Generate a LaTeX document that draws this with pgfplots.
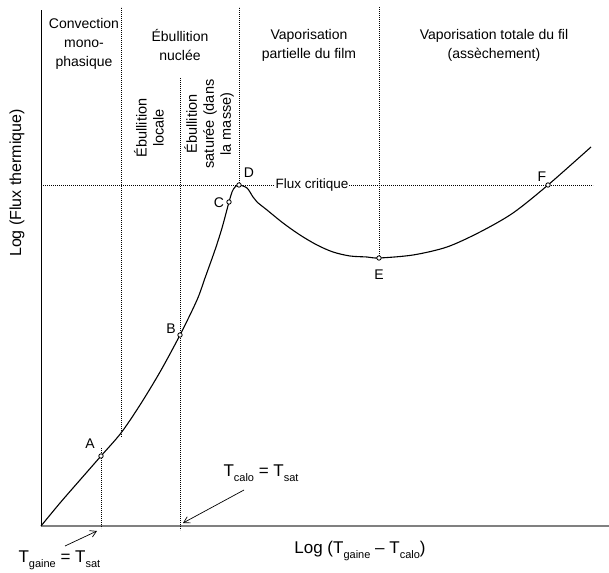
\documentclass[border=0pt]{standalone}
\usepackage{fontspec}
\setmainfont{Liberation Sans}
\usepackage{pgfplots}
\pgfplotsset{compat=1.18}
\usetikzlibrary{arrows.meta}
\newcommand{\sub}[1]{\raisebox{-5pt}{\fontsize{11}{11}\selectfont #1}}
\tikzset{dots/.style={black, line width=0.55pt, dash pattern=on 0.6pt off 1.4pt}}
\begin{document}
\begin{tikzpicture}[x=1pt,y=1pt]
\useasboundingbox (0,0) rectangle (609,572);
\begin{axis}[
  at={(41pt,46pt)}, anchor=south west,
  scale only axis, width=568pt, height=516pt,
  xmin=0, xmax=568, ymin=0, ymax=516,
  axis lines*=left, xtick=\empty, ytick=\empty,
  x axis line style={draw=gray, line width=2.4pt},
  y axis line style={draw=black, line width=1pt},
  clip=false,
]
% dotted guide lines
\addplot[dots] coordinates {(80,89) (80,519)};
\addplot[dots] coordinates {(60,78) (60,-2)};
\addplot[dots] coordinates {(139,448) (139,-4)};
\addplot[dots] coordinates {(198,341) (198,519)};
\addplot[dots] coordinates {(338,268) (338,519)};
\addplot[dots] coordinates {(2,341) (552,341)};
\node[fill=white, inner sep=1pt, font=\fontsize{13.5}{16}\selectfont] at (axis cs:271,341) {Flux critique};

% boiling curve
\addplot[black, line width=1.1pt, smooth, tension=0.5] coordinates {
(0,0) (19,23) (39,46) (60,70) (80,93) (99,121) (119,154) (139,191)
(156,226) (164,248) (174,276) (181,298) (188,324) (191,334) (194,339) (198,341)
(206,338) (212,329) (216,324) (226,316) (242,303) (259,291) (276,281) (292,274)
(309,270) (326,269) (338,268) (372,271) (406,279) (439,294) (472,313) (507,341) (550,379)
};
% points A..F
\addplot[only marks, mark=*, mark size=2.2pt, mark options={fill=white, draw=black, line width=0.8pt}]
coordinates {(60,70) (139,191) (188,324) (198,341) (338,268) (507,341)};

\node[font=\fontsize{14}{14}\selectfont] at (axis cs:49,82) {A};
\node[font=\fontsize{14}{14}\selectfont] at (axis cs:130,197) {B};
\node[font=\fontsize{14}{14}\selectfont] at (axis cs:178,323) {C};
\node[font=\fontsize{14}{14}\selectfont] at (axis cs:208,353) {D};
\node[font=\fontsize{14}{14}\selectfont] at (axis cs:338,251) {E};
\node[font=\fontsize{14}{14}\selectfont] at (axis cs:501,349) {F};

% region labels
\node[align=center, font=\fontsize{14}{19}\selectfont] at (axis cs:43,482) {Convection\\mono-\\phasique};
\node[align=center, font=\fontsize{14}{19}\selectfont] at (axis cs:139,481) {Ébullition\\nuclée};
\node[align=center, font=\fontsize{14}{19}\selectfont] at (axis cs:268,481) {Vaporisation\\partielle du film};
\node[align=center, font=\fontsize{14}{19}\selectfont] at (axis cs:453,481) {Vaporisation totale du fil\\(assèchement)};
\node[rotate=90, align=center, font=\fontsize{14.5}{17}\selectfont] at (axis cs:108,398) {Ébullition\\locale};
\node[rotate=90, align=center, font=\fontsize{14.5}{17}\selectfont] at (axis cs:168,402) {Ébullition\\saturée (dans\\la masse)};

% axis labels
\node[rotate=90, font=\fontsize{16}{18}\selectfont] at (axis cs:-24,343) {Log (Flux thermique)};
\node[anchor=base, font=\fontsize{17}{18}\selectfont] at (axis cs:319,-27) {Log (T\sub{gaine} – T\sub{calo})};
\node[anchor=base west, font=\fontsize{17}{18}\selectfont] at (axis cs:179,49) {T\sub{calo} = T\sub{sat}};
\node[anchor=base west, font=\fontsize{17}{18}\selectfont] at (axis cs:-26,-36) {T\sub{gaine} = T\sub{sat}};

% arrows
\draw[black, line width=0.7pt, -{Straight Barb[length=6pt,width=7pt]}] (axis cs:203,36) -- (axis cs:142,3);
\draw[black, line width=0.7pt, -{Straight Barb[length=6pt,width=7pt]}] (axis cs:24,-20) -- (axis cs:56,-5);
\end{axis}
\end{tikzpicture}
\end{document}
